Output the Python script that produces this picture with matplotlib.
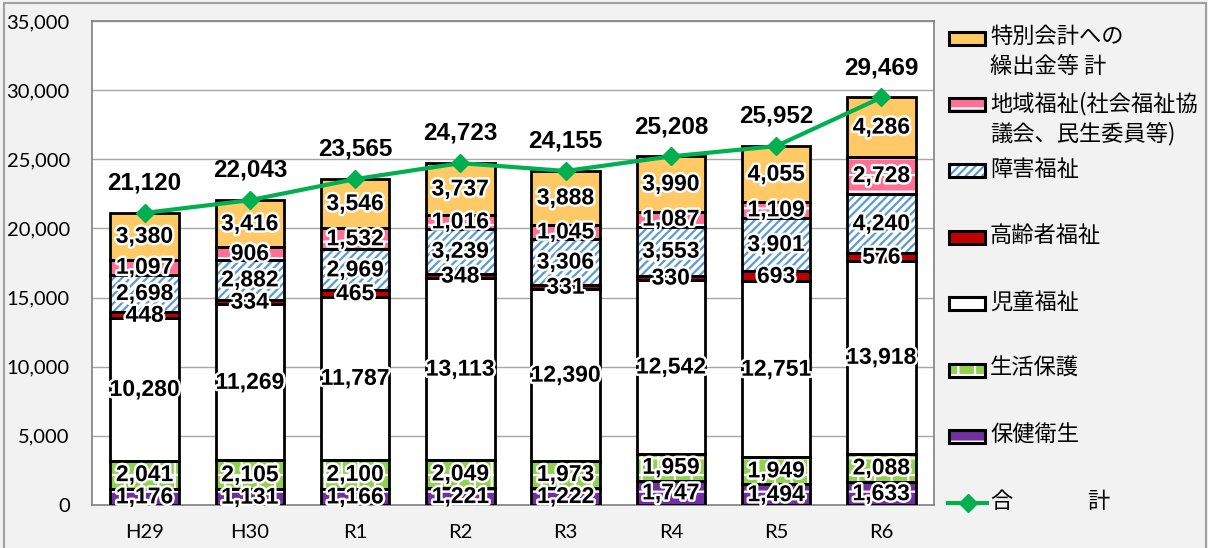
import matplotlib

matplotlib.use("Agg")
import matplotlib.pyplot as plt
import matplotlib.patheffects as pe
from matplotlib.patches import Rectangle
from matplotlib.lines import Line2D
import numpy as np

# data (stacked from the bottom up)
YEARS = ["H29", "H30", "R1", "R2", "R3", "R4", "R5", "R6"]
HOKEN = [1176, 1131, 1166, 1221, 1222, 1747, 1494, 1633]        # 保健衛生
SEIKATSU = [2041, 2105, 2100, 2049, 1973, 1959, 1949, 2088]     # 生活保護
JIDOU = [10280, 11269, 11787, 13113, 12390, 12542, 12751, 13918]  # 児童福祉
KOUREI = [448, 334, 465, 348, 331, 330, 693, 576]               # 高齢者福祉
SHOUGAI = [2698, 2882, 2969, 3239, 3306, 3553, 3901, 4240]      # 障害福祉
CHIIKI = [1097, 906, 1532, 1016, 1045, 1087, 1109, 2728]        # 地域福祉
TOKUBETSU = [3380, 3416, 3546, 3737, 3888, 3990, 4055, 4286]    # 特別会計への繰出金等
TOTAL = [21120, 22043, 23565, 24723, 24155, 25208, 25952, 29469]  # 合計

SERIES = [
    ("保健衛生", HOKEN, "#7030A0", "-", "white"),
    ("生活保護", SEIKATSU, "#92D050", "+", "white"),
    ("児童福祉", JIDOU, "white", None, "white"),
    ("高齢者福祉", KOUREI, "#C00000", None, "#C00000"),
    ("障害福祉", SHOUGAI, "white", "////", "#5B9BD5"),
    ("地域福祉(社会福祉協\n議会、民生委員等)", CHIIKI, "#FF6F96", "-", "white"),
    ("特別会計への\n繰出金等 計", TOKUBETSU, "#FFC966", None, "#FFC966"),
]
LINE_COLOR = "#00B050"

plt.rcParams.update({"font.family": ["Noto Sans CJK JP", "DejaVu Sans"],
                     "hatch.linewidth": 1.6})

W, H = 1208, 548
fig = plt.figure(figsize=(W / 100, H / 100), dpi=100, facecolor="#F2F2F2")
ax = fig.add_axes([92 / W, 1 - 505 / H, (934 - 92) / W, (505 - 21) / H])
ax.set_facecolor("white")

x = np.arange(len(YEARS))
bw = 0.65
stroke = [pe.withStroke(linewidth=3.5, foreground="white")]
bottom = np.zeros(len(YEARS))
for name, vals, fc, hatch, hc in SERIES:
    vals = np.array(vals, dtype=float)
    ax.bar(x, vals, bw, bottom=bottom, color=fc, edgecolor=hc, hatch=hatch,
           linewidth=0, zorder=2)
    ax.bar(x, vals, bw, bottom=bottom, fill=False, edgecolor="black",
           linewidth=2, zorder=3)
    for xi, b, v in zip(x, bottom, vals):
        ax.text(xi, b + v / 2, f"{int(v):,}", ha="center", va="center",
                fontsize=16.5, fontweight="bold", family="Liberation Sans",
                color="black", path_effects=stroke, zorder=5)
    bottom += vals

ax.plot(x, TOTAL, color=LINE_COLOR, lw=3, marker="D", ms=9, zorder=4)
for xi, t in zip(x, TOTAL):
    ax.text(xi, t + 2150, f"{t:,}", ha="center", va="center", fontsize=17.5,
            fontweight="bold", family="Liberation Sans", zorder=5)

ax.set_xlim(-0.5, len(YEARS) - 0.5)
ax.set_ylim(0, 35000)
ax.set_yticks(np.arange(0, 35001, 5000))
ax.set_yticklabels([f"{v:,}" for v in range(0, 35001, 5000)])
ax.set_xticks(x)
ax.set_xticklabels(YEARS)
ax.tick_params(axis="both", length=0, labelsize=14.5)
ax.tick_params(axis="x", pad=14)
ax.tick_params(axis="y", pad=16)
for lab in ax.get_xticklabels() + ax.get_yticklabels():
    lab.set_family("Lato")
ax.grid(axis="y", color="#A6A6A6", lw=1, zorder=0)
ax.set_axisbelow(True)
for s in ax.spines.values():
    s.set_color("#808080")
    s.set_linewidth(1.2)

# legend, drawn top-down at a fixed pitch like the source
def fy(py):
    return 1 - py / H

leg_items = list(reversed(SERIES))
for i, (name, vals, fc, hatch, hc) in enumerate(leg_items):
    yc = 38 + i * 66.4
    fig.add_artist(Rectangle((949 / W, fy(yc + 6.5)), 36 / W, 13 / H, transform=fig.transFigure,
                             facecolor=fc, edgecolor=hc, hatch=hatch, linewidth=0))
    fig.add_artist(Rectangle((949 / W, fy(yc + 6.5)), 36 / W, 13 / H, transform=fig.transFigure,
                             fill=False, edgecolor="black", linewidth=2.2))
    fig.text(990 / W, fy(yc - 13), name, fontsize=16, va="top", ha="left",
             linespacing=1.38)
yc = 38 + 7 * 66.4
fig.add_artist(Line2D([948 / W, 987 / W], [fy(yc), fy(yc)], transform=fig.transFigure,
                      color=LINE_COLOR, lw=3))
fig.add_artist(Line2D([967.5 / W], [fy(yc)], transform=fig.transFigure,
                      color=LINE_COLOR, marker="D", ms=9, lw=0))
fig.text(990 / W, fy(yc - 13), "合", fontsize=16, va="top", ha="left")
fig.text(1087 / W, fy(yc - 13), "計", fontsize=16, va="top", ha="left")

# outer frame of the chart area
fig.add_artist(Rectangle((4 / W, -0.05), 1202 / W, 1.05 - 3 / H, transform=fig.transFigure,
                         fill=False, edgecolor="#A0A0A0", linewidth=1.5))

fig.savefig("out.png", dpi=100, facecolor=fig.get_facecolor())
